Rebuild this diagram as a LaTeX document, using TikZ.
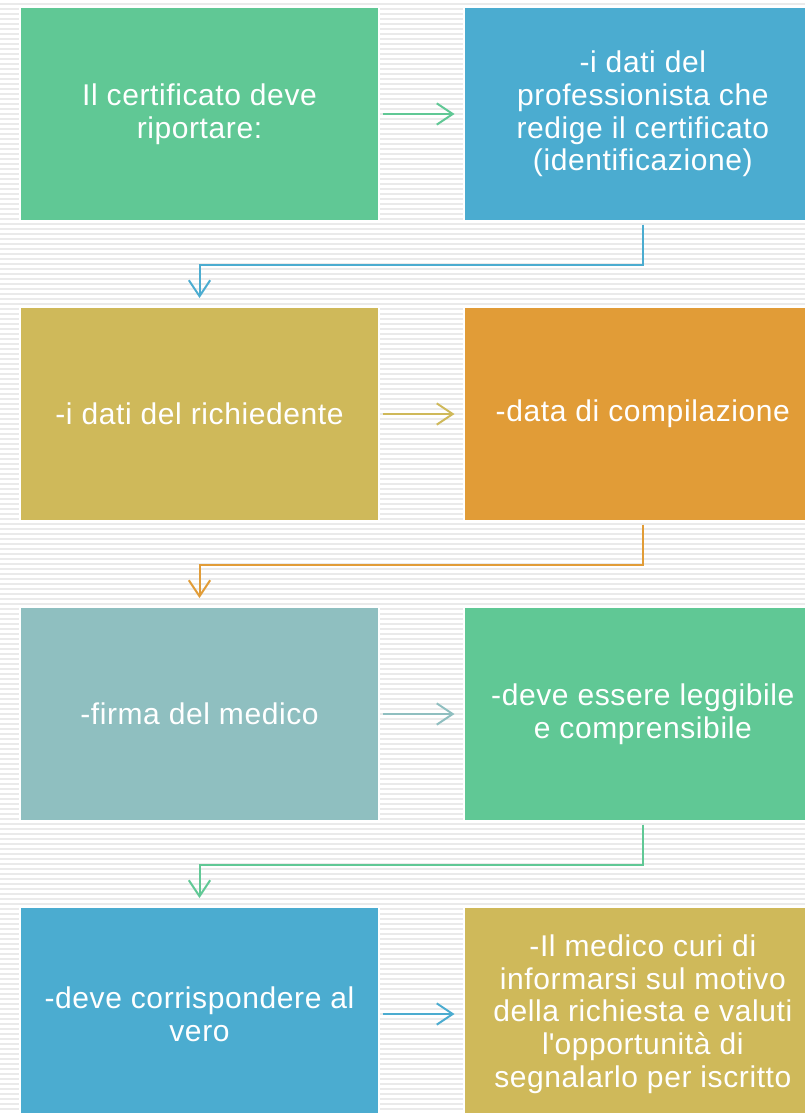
\documentclass[tikz,border=0pt]{standalone}
\usepackage{fontspec}
\setmainfont{Liberation Sans}[LetterSpace=2]
\usetikzlibrary{positioning,arrows.meta}
\definecolor{verde}{RGB}{96,200,149}
\definecolor{blu}{RGB}{75,172,208}
\definecolor{oliva}{RGB}{207,185,90}
\definecolor{arancio}{RGB}{225,156,55}
\definecolor{grigioblu}{RGB}{143,191,192}
\definecolor{riga}{RGB}{234,234,234}

\begin{document}
\begin{tikzpicture}[x=0.75pt,y=-0.75pt,
  box/.style={draw=white,line width=1.5pt,text=white,minimum width=269pt,minimum height=160.5pt,align=center,font=\fontsize{22.5}{24.5}\selectfont},
  conn/.style={draw=#1,line width=1.5pt,shorten <=2pt,shorten >=6pt,-{Straight Barb[length=12pt,width=16pt]}}]
  \useasboundingbox (0,0) rectangle (805,1113);
  \clip (0,0) rectangle (805,1113);
  % sfondo a righe
  \fill[white] (0,0) rectangle (805,1113);
  \foreach \y in {3,8,...,1113}
    \fill[riga] (0,\y) rectangle (805,\y+2);

  \node[box,fill=verde] (cert) at (199.5,114) {Il certificato deve\\riportare:};
  \node[box,fill=blu,right=62pt of cert] (prof) {-i dati del\\professionista che\\redige il certificato\\(identificazione)};
  \node[box,fill=oliva,below=63pt of cert] (rich) {-i dati del richiedente};
  \node[box,fill=arancio,right=62pt of rich] (data) {-data di compilazione};
  \node[box,fill=grigioblu,below=63pt of rich] (firma) {-firma del medico};
  \node[box,fill=verde,right=62pt of firma] (legg) {-deve essere leggibile\\e comprensibile};
  \node[box,fill=blu,below=63pt of firma] (vero) {-deve corrispondere al\\vero};
  \node[box,fill=oliva,right=62pt of vero] (motivo) {-Il medico curi di\\informarsi sul motivo\\della richiesta e valuti\\l\textquotesingle opportunità di\\segnalarlo per iscritto};

  \draw[conn=verde] (cert) -- (prof);
  \draw[conn=blu] (prof.south) -- ++(0,43) -| (rich.north);
  \draw[conn=oliva] (rich) -- (data);
  \draw[conn=arancio] (data.south) -- ++(0,43) -| (firma.north);
  \draw[conn=grigioblu] (firma) -- (legg);
  \draw[conn=verde] (legg.south) -- ++(0,43) -| (vero.north);
  \draw[conn=blu] (vero) -- (motivo);
\end{tikzpicture}
\end{document}
